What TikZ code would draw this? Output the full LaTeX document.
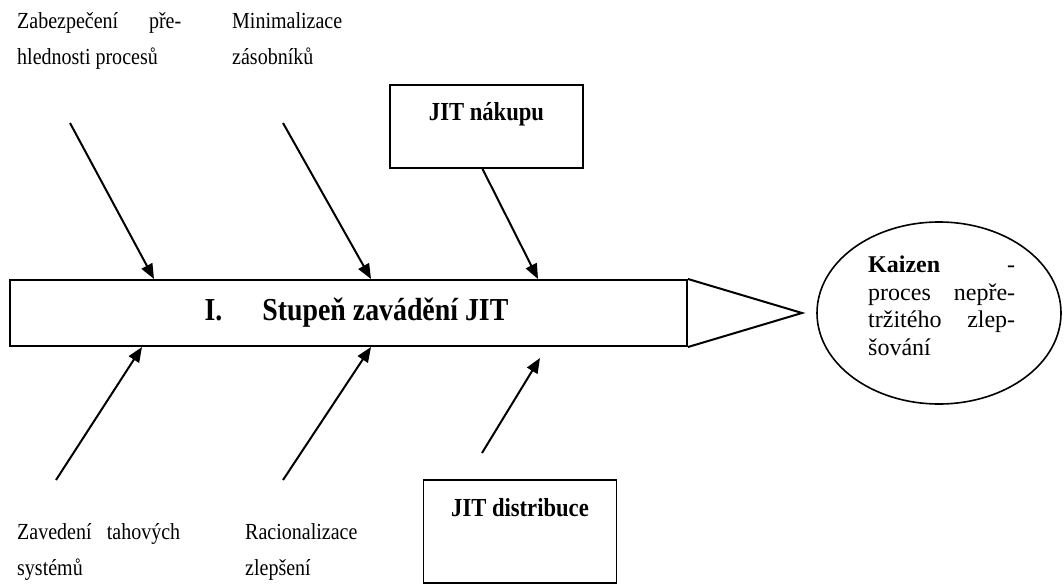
\documentclass[tikz,border=0pt]{standalone}
\usepackage{fontspec}
\setmainfont{Liberation Serif}[FakeStretch=0.87]
\newfontfamily\goalfont{Liberation Serif}
\usetikzlibrary{arrows.meta,positioning,calc,shapes.geometric}

\begin{document}
\begin{tikzpicture}[x=1pt, y=-1pt,
  note/.style={anchor=north west, inner sep=0pt, align=left, font=\fontsize{23}{36}\selectfont},
  stagebox/.style={rectangle, draw, line width=2pt, minimum width=677pt, minimum height=66pt, inner sep=0pt, font=\fontsize{32}{38}\selectfont\bfseries},
  jitbox/.style={rectangle, draw, line width=1.8pt, minimum width=193pt, inner xsep=0pt, inner ysep=15pt, text height=21pt, font=\fontsize{26}{30}\selectfont\bfseries},
  goal/.style={ellipse, draw, line width=1.6pt, minimum width=244pt, minimum height=182pt, inner sep=0pt},
  goaltxt/.style={anchor=north west, inner sep=0pt, text width=147pt, align=left, font=\goalfont\fontsize{24}{27.5}\selectfont},
  arr/.style={-{Triangle[length=15pt,width=12pt]}, line width=2pt}]
\useasboundingbox (0,0) rectangle (1064,588);
\node[stagebox] (st) at (348.5,313) {\hspace*{16pt}I.\hspace{40pt}Stupeň zavádění JIT};
\coordinate (tip) at (802,313);
\draw[line width=2pt, line join=miter] (st.north east) -- (tip) -- (st.south east);
\node[goal] (kz) at (939,313) {};
\node[goaltxt] (kztxt) at (868,256) {\textbf{Kaizen}\hfill-\\proces\hfill nepře-\\tržitého\hfill zlep-\\šování};
\node[jitbox, text depth=32pt] (buy) at (486.5,126.5) {JIT nákupu};
\node[jitbox, text depth=52pt] (dist) at (520,531.5) {JIT distribuce};
\node[note] (n1) at (17,12) {\makebox[164pt][s]{Zabezpečení pře-}\\hlednosti procesů};
\node[note] (n2) at (232,12) {Minimalizace\\zásobníků};
\node[note] (n3) at (17,523) {\makebox[163pt][s]{Zavedení tahových}\\systémů};
\node[note] (n4) at (245,523) {Racionalizace\\zlepšení};
\coordinate (a1) at (70,123);
\coordinate (a2) at (283,123);
\coordinate (b1) at (56,480);
\coordinate (b2) at (283,480);
\coordinate (b3) at (482,453);
\coordinate (b3e) at (540,358);
\draw[arr] (a1) -- ($(st.north west)+(145,0)$);
\draw[arr] (a2) -- ($(st.north west)+(362,0)$);
\draw[arr] ($(buy.south)+(-4,0)$) -- ($(st.north west)+(529,0)$);
\draw[arr] (b1) -- ($(st.south west)+(133,0)$);
\draw[arr] (b2) -- ($(st.south west)+(362,0)$);
\draw[arr] (b3) -- (b3e);
\end{tikzpicture}
\end{document}
